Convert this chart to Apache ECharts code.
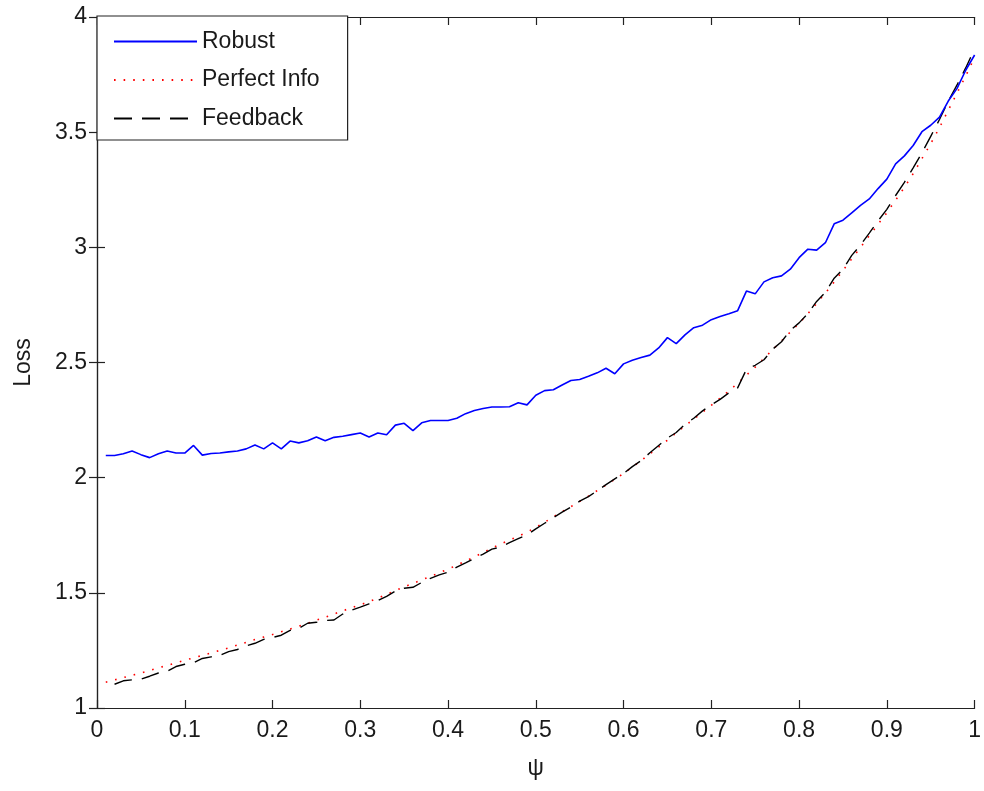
<!DOCTYPE html>
<html>
<head>
<meta charset="utf-8">
<script src="https://cdn.jsdelivr.net/npm/echarts@6/dist/echarts.min.js"></script>
<style>html,body{margin:0;padding:0;background:#fff;}#c{width:984px;height:791px;}</style>
</head>
<body>
<div id="c"></div>
<script>
const psi = [0.01,0.02,0.03,0.04,0.05,0.06,0.07,0.08,0.09,0.10,
0.11,0.12,0.13,0.14,0.15,0.16,0.17,0.18,0.19,0.20,
0.21,0.22,0.23,0.24,0.25,0.26,0.27,0.28,0.29,0.30,
0.31,0.32,0.33,0.34,0.35,0.36,0.37,0.38,0.39,0.40,
0.41,0.42,0.43,0.44,0.45,0.46,0.47,0.48,0.49,0.50,
0.51,0.52,0.53,0.54,0.55,0.56,0.57,0.58,0.59,0.60,
0.61,0.62,0.63,0.64,0.65,0.66,0.67,0.68,0.69,0.70,
0.71,0.72,0.73,0.74,0.75,0.76,0.77,0.78,0.79,0.80,
0.81,0.82,0.83,0.84,0.85,0.86,0.87,0.88,0.89,0.90,
0.91,0.92,0.93,0.94,0.95,0.96,0.97,0.98,0.99,1.00];

const robust = [2.096,2.096,2.104,2.116,2.100,2.087,2.104,2.116,2.107,2.107,
2.140,2.098,2.105,2.107,2.112,2.116,2.125,2.142,2.125,2.151,
2.125,2.159,2.151,2.160,2.177,2.160,2.175,2.180,2.187,2.194,
2.177,2.194,2.186,2.228,2.236,2.204,2.238,2.248,2.248,2.248,
2.258,2.278,2.292,2.300,2.307,2.307,2.308,2.325,2.316,2.358,
2.378,2.382,2.402,2.422,2.426,2.440,2.455,2.475,2.451,2.494,
2.510,2.522,2.532,2.563,2.608,2.582,2.620,2.651,2.662,2.686,
2.700,2.712,2.725,2.810,2.798,2.850,2.868,2.876,2.905,2.955,
2.992,2.988,3.020,3.102,3.118,3.150,3.182,3.210,3.255,3.296,
3.362,3.397,3.442,3.502,3.530,3.565,3.635,3.690,3.770,3.835];

const perfectInfo = [1.112,1.122,1.132,1.142,1.152,1.163,1.174,1.185,1.196,1.207,
1.218,1.228,1.239,1.250,1.261,1.273,1.285,1.297,1.308,1.319,
1.331,1.343,1.355,1.368,1.381,1.394,1.408,1.422,1.435,1.448,
1.462,1.477,1.493,1.510,1.526,1.541,1.556,1.571,1.587,1.603,
1.620,1.638,1.656,1.675,1.694,1.712,1.729,1.745,1.764,1.784,
1.806,1.830,1.852,1.874,1.897,1.920,1.944,1.968,1.993,2.018,
2.046,2.074,2.103,2.133,2.163,2.194,2.225,2.254,2.284,2.314,
2.345,2.377,2.410,2.445,2.480,2.518,2.556,2.594,2.632,2.670,
2.712,2.756,2.802,2.850,2.900,2.950,3.000,3.050,3.100,3.150,
3.205,3.260,3.320,3.385,3.450,3.520,3.595,3.670,3.745,3.825];

const feedback = [null,1.103,1.118,1.122,1.125,1.138,1.152,1.160,1.180,1.190,
1.196,1.215,1.222,1.228,1.245,1.254,1.270,1.281,1.298,1.306,
1.316,1.337,1.346,1.368,1.372,1.380,1.382,1.408,1.425,1.438,
1.452,1.466,1.485,1.508,1.520,1.524,1.545,1.563,1.578,1.590,
1.612,1.630,1.650,1.668,1.690,1.698,1.718,1.735,1.752,1.778,
1.802,1.826,1.850,1.872,1.898,1.918,1.943,1.970,1.995,2.018,
2.048,2.074,2.108,2.140,2.172,2.196,2.232,2.258,2.290,2.316,
2.340,2.368,2.390,2.470,2.488,2.512,2.558,2.590,2.640,2.672,
2.712,2.765,2.805,2.866,2.905,2.965,3.010,3.062,3.115,3.165,
3.225,3.282,3.345,3.410,3.482,3.555,3.635,3.705,3.780,3.862];

const seriesNames = ['Robust', 'Perfect Info', 'Feedback'];
const xAxisName = 'ψ';
const yAxisName = 'Loss';

function pairs(xs, ys) { return xs.map((x, i) => [x, ys[i]]); }

const FONT = 'Liberation Sans';
const TXT = '#1a1a1a';
const FS = 23;

const chart = echarts.init(document.getElementById('c'), null, { renderer: 'canvas' });
const axisCommon = {
  axisLine: { show: true, lineStyle: { color: '#222', width: 1.2 } },
  axisTick: { show: true, inside: true, length: 8, lineStyle: { color: '#222', width: 1.2 } },
  splitLine: { show: false }
};
chart.setOption({
  animation: false,
  backgroundColor: '#fff',
  grid: { left: 97, right: 6, top: 17, bottom: 83, containLabel: false },
  xAxis: [
    Object.assign({
      type: 'value', min: 0, max: 1, interval: 0.1, position: 'bottom',
      name: xAxisName, nameLocation: 'middle', nameGap: 49,
      nameTextStyle: { fontFamily: FONT, fontSize: FS, color: TXT },
      axisLabel: { fontFamily: FONT, fontSize: FS, color: TXT, margin: 11 }
    }, axisCommon),
    Object.assign({
      type: 'value', min: 0, max: 1, interval: 0.1, position: 'top',
      axisLabel: { show: false }
    }, axisCommon)
  ],
  yAxis: [
    Object.assign({
      type: 'value', min: 1, max: 4, interval: 0.5, position: 'left',
      name: yAxisName, nameLocation: 'middle', nameGap: 62,
      nameTextStyle: { fontFamily: FONT, fontSize: FS, color: TXT },
      axisLabel: { fontFamily: FONT, fontSize: FS, color: TXT, margin: 10 }
    }, axisCommon),
    Object.assign({
      type: 'value', min: 1, max: 4, interval: 0.5, position: 'right',
      axisLabel: { show: false }
    }, axisCommon)
  ],
  legend: {
    orient: 'vertical', left: 97, top: 16,
    data: seriesNames,
    itemWidth: 83, itemHeight: 24, itemGap: 15.5,
    padding: [14, 28, 10, 16],
    backgroundColor: '#fff',
    borderColor: '#222', borderWidth: 1.2, borderRadius: 0,
    itemStyle: { opacity: 0 },
    textStyle: { fontFamily: FONT, fontSize: FS, color: TXT },
    selectedMode: false
  },
  series: [
    {
      name: seriesNames[0], type: 'line', data: pairs(psi, robust),
      symbol: 'none', showSymbol: false,
      lineStyle: { color: '#0000ff', width: 1.6, type: 'solid' },
      itemStyle: { color: '#0000ff' }, z: 3
    },
    {
      name: seriesNames[1], type: 'line', data: pairs(psi, perfectInfo),
      symbol: 'none', showSymbol: false,
      lineStyle: { color: '#ff0000', width: 1.6, type: [1.6, 8] },
      itemStyle: { color: '#ff0000' }, z: 2
    },
    {
      name: seriesNames[2], type: 'line', data: pairs(psi, feedback),
      symbol: 'none', showSymbol: false, connectNulls: false,
      lineStyle: { color: '#000000', width: 1.4, type: [18, 10] },
      itemStyle: { color: '#000000' }, z: 2
    }
  ]
});
</script>
</body>
</html>
